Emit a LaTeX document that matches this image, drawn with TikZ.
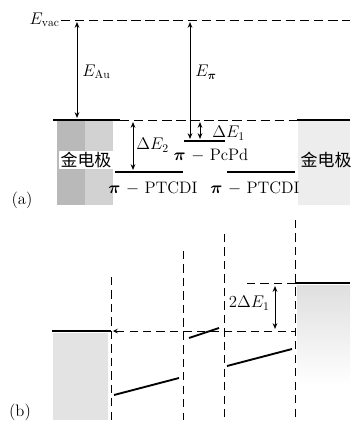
\documentclass[tikz,border=0pt]{standalone}
\usepackage{amsmath,amssymb}
\usepackage{fontspec}
\newfontfamily\cjk{Noto Sans CJK SC}
\usepackage{tikz}
\usetikzlibrary{positioning, calc, arrows.meta}

\tikzset{
    level/.style={line width=1.6pt},
    vac/.style={thick, dash pattern=on 8pt off 4pt},
    guide/.style={thick, dash pattern=on 7pt off 4.5pt},
    gap/.style={thick, {Stealth[length=5pt,width=4pt]}-{Stealth[length=5pt,width=4pt]}},
    lbl/.style={inner sep=1pt, font=\fontsize{14.2}{16}\selectfont},
    elec/.style={inner sep=1pt, fill=white, font=\fontsize{14.5}{16}\selectfont\cjk}
}
\newcommand{\bpi}{\boldsymbol{\pi}}

\begin{document}
\begin{tikzpicture}[x=0.03cm, y=-0.03cm, >=stealth]
    \useasboundingbox (0,0) rectangle (350,430);

    % --- (a): gold electrodes ---
    \fill[gray!55] (57,121) rectangle (85,205);
    \fill[gray!35] (85,121) rectangle (113,205);
    \fill[gray!14] (298,121) rectangle (350,205);
    \node[elec] (auL) at (86,160) {金电极};
    \node[elec, fill=none] (auR) at (326,160) {金电极};

    % --- (a): vacuum level ---
    \node[lbl, anchor=east] (evac) at (61,20) {$E_{\mathrm{vac}}$};
    \draw[vac] (evac.east) -- (350,20);

    % --- (a): Fermi level of gold ---
    \coordinate (fl0) at (53,120);
    \coordinate (fl1) at (120,120);
    \coordinate (fl2) at (297,120);
    \coordinate (fl3) at (350,120);
    \draw[level] (fl0) -- (fl1);
    \draw[vac] (fl1) -- (fl2);
    \draw[level] (fl2) -- (fl3);

    % --- (a): molecular levels ---
    \draw[level] (115,172) -- (183,172) coordinate (ptL);
    \draw[level] (184,141) -- (225,141) coordinate (pc);
    \draw[level] (227,172) -- (295,172) coordinate (ptR);
    \node[lbl] (ptLlbl) at (153,188) {$\bpi$ $-$ PTCDI};
    \node[lbl] (ptRlbl) at (255,188) {$\bpi$ $-$ PTCDI};
    \node[lbl] (pclbl) at (211,155) {$\bpi$ $-$ PcPd};

    % --- (a): energy gaps ---
    \draw[gap] (77,22) -- (77,118);
    \node[lbl, anchor=west] (eau) at (81,72) {$E_{\mathrm{Au}}$};
    \draw[gap] (190,22) -- (190,139);
    \node[lbl, anchor=west] (epi) at (194,72) {$E_{\bpi}$};
    \draw[gap] (133,122) -- (133,170);
    \node[lbl, anchor=west] (de2) at (135,145) {$\Delta E_2$};
    \draw[gap] (200,122) -- (200,139);
    \node[lbl, anchor=west] (de1) at (211,133) {$\Delta E_1$};

    \node[lbl] (capa) at (22,200) {(a)};

    % --- (b): gold electrodes ---
    \fill[gray!22] (53,333) rectangle (108,420);
    \shade[top color=gray!25, bottom color=white] (297,285) rectangle (350,385);

    % --- (b): interface boundaries ---
    \draw[guide] (111,277) -- (111,420);
    \draw[guide] (183,251) -- (183,420);
    \draw[guide] (224,234) -- (224,420);
    \draw[guide] (295,220) -- (295,420);

    % --- (b): Fermi levels ---
    \draw[level] (52,331) -- (111,331);
    \draw[guide, <-] (113,331) -- (295,331);
    \draw[guide] (247,283) -- (295,283);
    \draw[level] (295,283) -- (350,283);
    \draw[gap] (275,286) -- (275,329);
    \node[lbl, anchor=east] (de1b) at (271,303) {$2\Delta E_1$};

    % --- (b): tilted molecular levels ---
    \draw[level] (114,395) -- (179,378);
    \draw[level] (189,338) -- (219,328);
    \draw[level] (227,366) -- (292,349);

    \node[lbl] (capb) at (20,412) {(b)};

\end{tikzpicture}
\end{document}
